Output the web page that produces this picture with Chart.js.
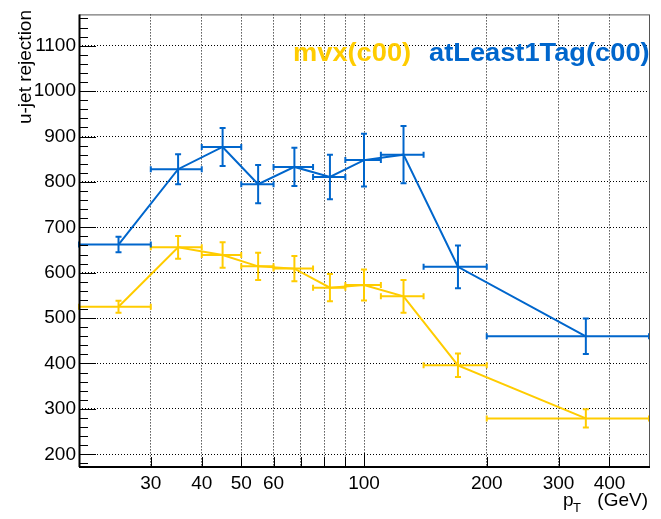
<!DOCTYPE html>
<html>
<head>
<meta charset="utf-8">
<script src="https://cdn.jsdelivr.net/npm/chart.js@4.4.1/dist/chart.umd.min.js"></script>
<style>
  html, body { margin: 0; padding: 0; background: #fff; }
  #wrap { width: 661px; height: 519px; }
</style>
</head>
<body>
<div id="wrap"><canvas id="rej" width="661" height="519"></canvas></div>
<script>
// pT bins (GeV) and u-jet rejection per bin
const binLow   = [20, 30, 40, 50, 60, 75, 90, 110, 140, 200]
const binHigh  = [30, 40, 50, 60, 75, 90, 110, 140, 200, 500]
const ptCenter = [25, 35, 45, 55, 67.5, 82.5, 100, 125, 170, 350]
const mvxRej   = [525, 656, 639, 614, 609, 567, 573, 548, 396, 279]
const mvxErr   = [13, 25, 28, 30, 28, 30, 34, 36, 26, 20]
const tagRej   = [662, 828, 877, 795, 833, 811, 848, 860, 613, 460]
const tagErr   = [17, 33, 42, 42, 42, 49, 58, 63, 47, 39]

const xGridTicks  = [30, 40, 50, 60, 70, 80, 90, 100, 200, 300, 400]
const xTickLabels = [30, 40, 50, 60, 100, 200, 300, 400]
const yTicks      = [200, 300, 400, 500, 600, 700, 800, 900, 1000, 1100]
const seriesNames = ['mvx(c00)', 'atLeast1Tag(c00)']

const YELLOW = '#ffcc00'
const BLUE = '#0066cc'
const FONT = '"Liberation Sans", Arial, Helvetica, sans-serif'

// error bars with small end caps, like ROOT's TGraphErrors
const errorBars = {
  id: 'errorBars',
  afterDatasetsDraw(chart) {
    const {ctx, chartArea: a, scales: {x, y}} = chart
    ctx.save()
    ctx.beginPath()
    ctx.rect(a.left - 2, a.top, a.right - a.left + 4, a.bottom - a.top)
    ctx.clip()
    chart.data.datasets.forEach(ds => {
      ctx.strokeStyle = ds.borderColor
      ctx.lineWidth = 2
      ds.data.forEach((p, i) => {
        const px = x.getPixelForValue(p.x)
        const py = y.getPixelForValue(p.y)
        const x1 = x.getPixelForValue(ds.lo[i])
        const x2 = x.getPixelForValue(ds.hi[i])
        const y1 = y.getPixelForValue(p.y + ds.err[i])
        const y2 = y.getPixelForValue(p.y - ds.err[i])
        ctx.beginPath()
        ctx.moveTo(x1, py); ctx.lineTo(x2, py)
        ctx.moveTo(x1, py - 3); ctx.lineTo(x1, py + 3)
        ctx.moveTo(x2, py - 3); ctx.lineTo(x2, py + 3)
        ctx.moveTo(px, y1); ctx.lineTo(px, y2)
        ctx.moveTo(px - 3, y1); ctx.lineTo(px + 3, y1)
        ctx.moveTo(px - 3, y2); ctx.lineTo(px + 3, y2)
        ctx.stroke()
      })
    })
    ctx.restore()
  }
}

// frame, inward ticks, titles and the text legend
const decorations = {
  id: 'decorations',
  afterDraw(chart) {
    const {ctx, chartArea: a, scales: {x, y}} = chart
    ctx.save()
    ctx.strokeStyle = '#000'
    ctx.lineWidth = 1
    ctx.beginPath()
    for (let v = 180; v <= 1160; v += 20) {
      const py = Math.round(y.getPixelForValue(v)) + 0.5
      const len = v % 100 === 0 ? 17 : 9
      ctx.moveTo(a.left, py); ctx.lineTo(a.left + len, py)
    }
    xGridTicks.forEach(v => {
      const px = Math.round(x.getPixelForValue(v)) + 0.5
      const len = v === 100 ? 14 : 10
      ctx.moveTo(px, a.bottom); ctx.lineTo(px, a.bottom - len)
    })
    ctx.stroke()

    ctx.strokeStyle = '#555'
    ctx.strokeRect(a.left + 0.5, a.top + 0.5, a.right - a.left, a.bottom - a.top)
    ctx.strokeStyle = '#000'
    ctx.lineWidth = 2
    ctx.beginPath()
    ctx.moveTo(a.left, a.bottom); ctx.lineTo(a.right + 1, a.bottom)
    ctx.moveTo(a.left + 0.5, a.top); ctx.lineTo(a.left + 0.5, a.bottom)
    ctx.stroke()

    // y title
    ctx.fillStyle = '#000'
    ctx.font = '19px ' + FONT
    ctx.save()
    ctx.translate(31, 10)
    ctx.rotate(-Math.PI / 2)
    ctx.textAlign = 'right'
    ctx.textBaseline = 'alphabetic'
    ctx.fillText('u-jet rejection', 0, 0)
    ctx.restore()

    // x title p_T (GeV)
    ctx.textAlign = 'left'
    ctx.fillText('p', 563, 506)
    ctx.font = '13px ' + FONT
    ctx.fillText('T', 573, 512)
    ctx.font = '19px ' + FONT
    ctx.textAlign = 'right'
    ctx.fillText('(GeV)', 648, 506)

    // legend as coloured text
    ctx.textAlign = 'left'
    ctx.font = 'bold 25px ' + FONT
    const colors = [YELLOW, BLUE]
    const starts = [293, 429]
    seriesNames.forEach((name, i) => {
      ctx.save()
      ctx.translate(starts[i], 61)
      ctx.scale(1.09, 1)
      ctx.fillStyle = colors[i]
      ctx.fillText(name, 0, 0)
      ctx.restore()
    })
    ctx.restore()
  }
}

new Chart(document.getElementById('rej'), {
  type: 'scatter',
  data: {
    datasets: [
      {
        label: seriesNames[0],
        data: ptCenter.map((c, i) => ({x: c, y: mvxRej[i]})),
        lo: binLow, hi: binHigh, err: mvxErr,
        borderColor: YELLOW, backgroundColor: YELLOW,
        borderWidth: 2, showLine: true, pointRadius: 0
      },
      {
        label: seriesNames[1],
        data: ptCenter.map((c, i) => ({x: c, y: tagRej[i]})),
        lo: binLow, hi: binHigh, err: tagErr,
        borderColor: BLUE, backgroundColor: BLUE,
        borderWidth: 2, showLine: true, pointRadius: 0
      }
    ]
  },
  options: {
    responsive: false,
    animation: false,
    devicePixelRatio: 1,
    layout: {padding: {left: 0, top: 9, right: 12, bottom: 0}},
    plugins: {legend: {display: false}, tooltip: {enabled: false}},
    scales: {
      x: {
        type: 'logarithmic',
        min: 20, max: 500,
        afterBuildTicks: s => { s.ticks = xGridTicks.map(v => ({value: v})) },
        afterFit: s => { s.height = 52 },
        ticks: {
          autoSkip: false, maxRotation: 0, padding: 5, color: '#000',
          font: {family: FONT, size: 19},
          callback: v => xTickLabels.includes(v) ? String(v) : ''
        },
        grid: {color: '#000', lineWidth: 1, drawTicks: false},
        border: {display: false, dash: [1, 2]}
      },
      y: {
        min: 172, max: 1169,
        afterBuildTicks: s => { s.ticks = yTicks.map(v => ({value: v})) },
        afterFit: s => { s.width = 79 },
        ticks: {
          padding: 3, color: '#000',
          font: {family: FONT, size: 19},
          callback: v => String(v)
        },
        grid: {color: '#000', lineWidth: 1, drawTicks: false},
        border: {display: false, dash: [1, 2]}
      }
    }
  },
  plugins: [errorBars, decorations]
})
</script>
</body>
</html>
